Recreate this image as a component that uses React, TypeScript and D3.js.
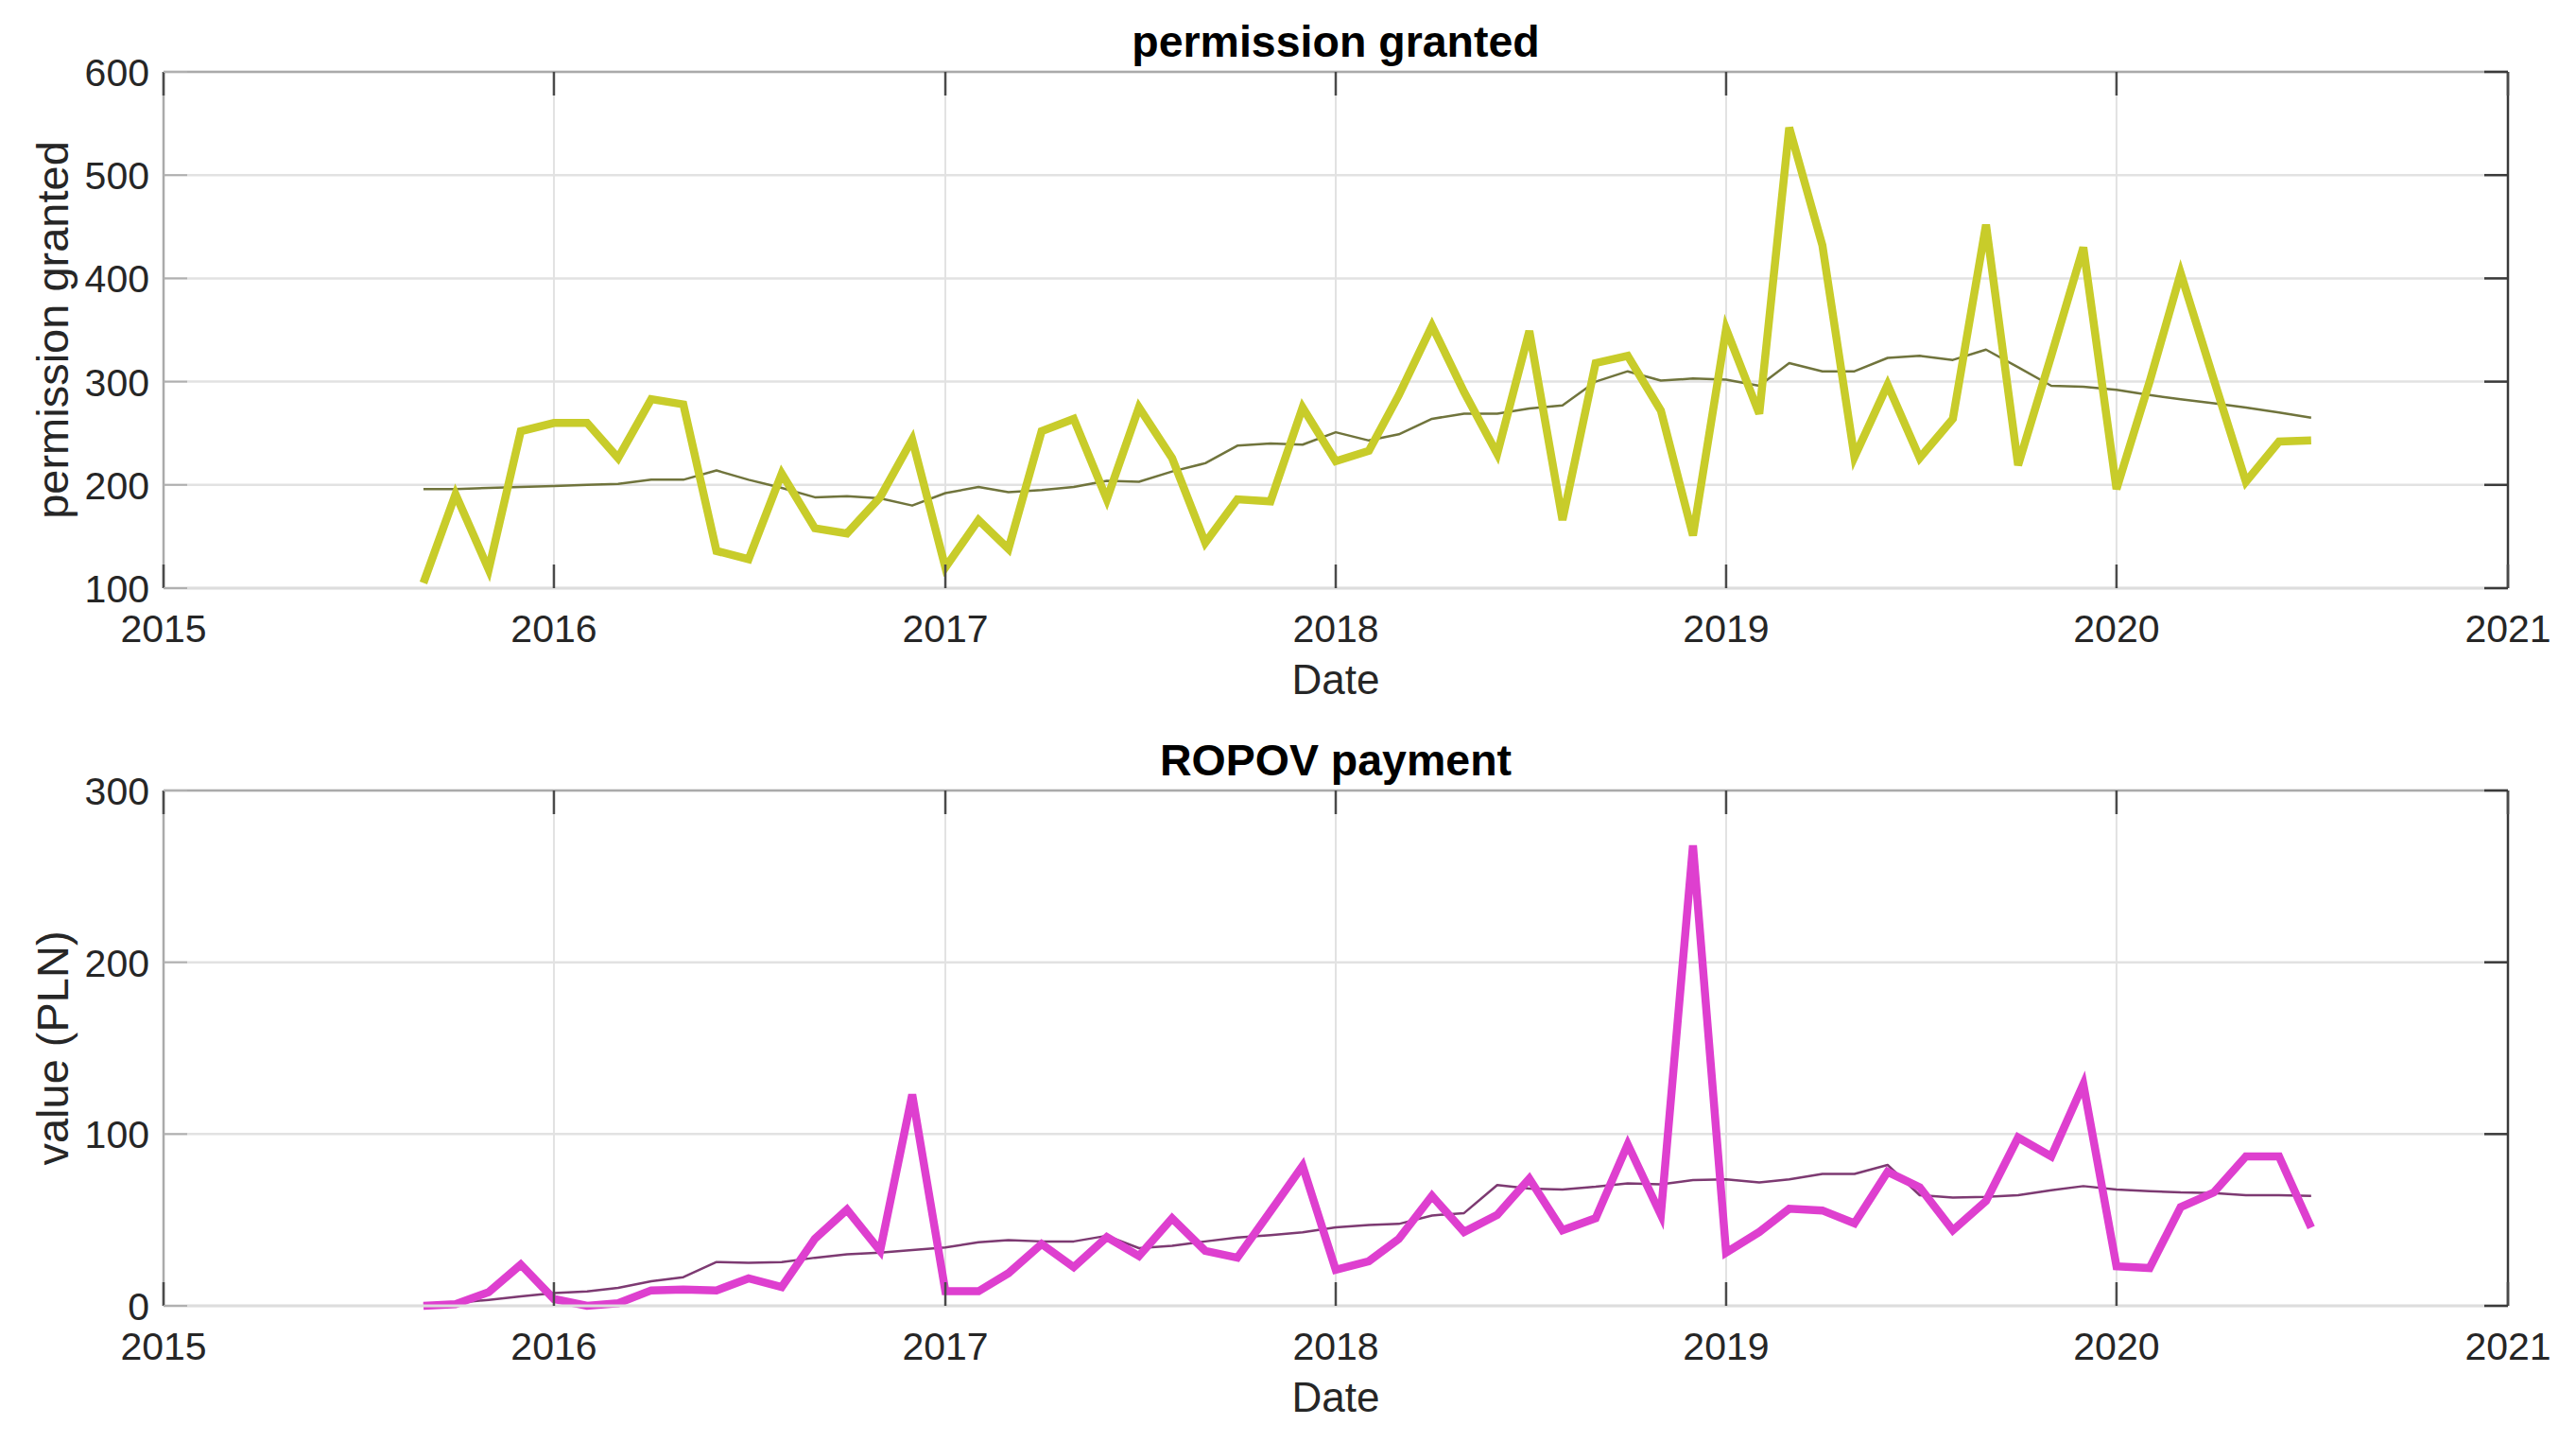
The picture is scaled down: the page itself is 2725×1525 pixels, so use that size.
import React from "react";
import * as d3 from "d3";

// ---- data (monthly, Sep 2015 .. Jul 2020) ----
const startMonth = new Date(2015, 8, 1);
const endMonthExclusive = new Date(2020, 7, 1);

const permissionGranted = [
  105, 191, 118, 252, 260, 260, 226, 283, 278, 136, 128, 211, 158, 153, 188, 244,
  120, 166, 138, 252, 264, 186, 275, 226, 144, 186, 184, 275, 223, 233, 287, 354,
  290, 230, 349, 166, 318, 325, 272, 151, 351, 269, 546, 432, 227, 297, 226, 264,
  452, 219, 325, 430, 196, 300, 405, 302, 203, 242, 243,
];
const permissionTrend = [
  196, 196, 197, 198, 199, 200, 201, 205, 205, 214, 205, 197, 188, 189, 187, 180,
  192, 198, 193, 195, 198, 204, 203, 213, 221, 238, 240, 239, 251, 243, 249, 264,
  269, 269, 274, 277, 300, 310, 301, 303, 302, 296, 318, 310, 310, 323, 325, 321,
  331, 314, 296, 295, 292, 287, 283, 279, 275, 270, 265,
];
const ropovPayment = [
  0, 1, 8, 24, 4, 0, 1.5, 9, 9.5, 9, 16, 11, 39, 56, 32, 123,
  8.5, 8.5, 19, 36, 22.5, 40, 29, 51, 32, 28, 55, 81.5, 21, 26, 39, 64,
  43, 53, 74, 44, 51, 94, 53, 268, 31, 43, 56.5, 55.5, 48, 78, 69, 44,
  61, 98, 87, 129, 23, 22, 57.5, 66, 87, 87, 45.5,
];
const ropovTrend = [
  1, 1.6, 3.5, 5.5, 7.4, 8.4, 10.5, 14.3, 16.7, 25.5, 25, 25.5, 28, 30, 31, 32.5,
  34, 37, 38.3, 37.5, 37.5, 40.8, 33.6, 34.9, 37.5, 39.8, 41.2, 42.8, 45.7, 47.1, 47.7, 52.6,
  54, 70.3, 68.3, 67.7, 69.3, 71.3, 70.7, 73.2, 73.6, 71.8, 73.6, 76.8, 76.8, 82, 64.4, 63,
  63.4, 64.4, 67.3, 69.7, 67.7, 66.8, 66, 65.6, 64.4, 64.4, 64,
];

const xTickYears = [2015, 2016, 2017, 2018, 2019, 2020, 2021];
const topYTicks = [100, 200, 300, 400, 500, 600];
const bottomYTicks = [0, 100, 200, 300];

const FONT = "'Liberation Sans', Arial, Helvetica, sans-serif";

type PanelProps = {
  title: string;
  yLabel: string;
  values: number[];
  trend: number[];
  yDomain: [number, number];
  yTicks: number[];
  top: number;
  bottom: number;
  mainColor: string;
  trendColor: string;
};

const months = d3.timeMonth.range(startMonth, endMonthExclusive);
const LEFT = 173;
const RIGHT = 2653;
const x = d3
  .scaleTime()
  .domain([new Date(2015, 0, 1), new Date(2021, 0, 1)])
  .range([LEFT, RIGHT]);

function Panel(p: PanelProps) {
  const y = d3.scaleLinear().domain(p.yDomain).range([p.bottom, p.top]);
  const line = d3
    .line<number>()
    .x((_, i) => x(months[i]))
    .y((v) => y(v));
  const cx = (LEFT + RIGHT) / 2;
  const cy = (p.top + p.bottom) / 2;
  const tickLen = 25;
  return (
    <g>
      {/* grid */}
      {xTickYears.map((yr) => {
        const xx = x(new Date(yr, 0, 1));
        return (
          <line key={"gx" + yr} x1={xx} x2={xx} y1={p.top} y2={p.bottom} stroke="#e2e2e2" strokeWidth={2} />
        );
      })}
      {p.yTicks.map((t) => (
        <line key={"gy" + t} x1={LEFT} x2={RIGHT} y1={y(t)} y2={y(t)} stroke="#e2e2e2" strokeWidth={2.5} />
      ))}
      {/* series */}
      <path d={line(p.trend) || ""} fill="none" stroke={p.trendColor} strokeWidth={2.5} strokeLinejoin="round" />
      <path d={line(p.values) || ""} fill="none" stroke={p.mainColor} strokeWidth={8.5} strokeLinejoin="miter" strokeMiterlimit={4} />
      {/* axes box */}
      <line x1={LEFT} x2={RIGHT} y1={p.top} y2={p.top} stroke="#aaaaaa" strokeWidth={2.5} />
      <line x1={LEFT} x2={LEFT} y1={p.top} y2={p.bottom} stroke="#aaaaaa" strokeWidth={2.5} />
      <line x1={LEFT} x2={RIGHT} y1={p.bottom} y2={p.bottom} stroke="#dddddd" strokeWidth={3} />
      <line x1={RIGHT} x2={RIGHT} y1={p.top} y2={p.bottom} stroke="#3a3a3a" strokeWidth={2.5} />
      {/* ticks */}
      {xTickYears.map((yr) => {
        const xx = x(new Date(yr, 0, 1));
        return (
          <g key={"tx" + yr}>
            <line x1={xx} x2={xx} y1={p.bottom} y2={p.bottom - tickLen} stroke="#4a4a4a" strokeWidth={2.5} />
            <line x1={xx} x2={xx} y1={p.top} y2={p.top + tickLen} stroke="#4a4a4a" strokeWidth={2.5} />
            <text
              x={xx}
              y={p.bottom + 57}
              textAnchor="middle"
              fontFamily={FONT}
              fontSize={41}
              fill="#262626"
            >
              {yr}
            </text>
          </g>
        );
      })}
      {p.yTicks.map((t) => (
        <g key={"ty" + t}>
          <line x1={LEFT} x2={LEFT + tickLen} y1={y(t)} y2={y(t)} stroke="#b0b0b0" strokeWidth={2} />
          <line x1={RIGHT} x2={RIGHT - tickLen} y1={y(t)} y2={y(t)} stroke="#3a3a3a" strokeWidth={2.5} />
          <text
            x={LEFT - 15}
            y={y(t) + 15}
            textAnchor="end"
            fontFamily={FONT}
            fontSize={41}
            fill="#262626"
          >
            {t}
          </text>
        </g>
      ))}
      {/* labels */}
      <text x={cx} y={p.bottom + 112} textAnchor="middle" fontFamily={FONT} fontSize={44} fill="#262626">
        Date
      </text>
      <text
        transform={`translate(72, ${cy}) rotate(-90)`}
        textAnchor="middle"
        fontFamily={FONT}
        fontSize={47}
        fill="#262626"
      >
        {p.yLabel}
      </text>
      <text
        x={cx}
        y={p.top - 16}
        textAnchor="middle"
        fontFamily={FONT}
        fontSize={46.5}
        fontWeight="bold"
        fill="#000"
      >
        {p.title}
      </text>
    </g>
  );
}

export default function App() {
  return (
    <svg
      width={2725}
      height={1525}
      viewBox="0 0 2725 1525"
      style={{ position: "fixed", left: 0, top: 0, background: "#fff" }}
    >
      <rect x={0} y={0} width={2725} height={1525} fill="#fff" />
      <Panel
        title="permission granted"
        yLabel="permission granted"
        values={permissionGranted}
        trend={permissionTrend}
        yDomain={[100, 600]}
        yTicks={topYTicks}
        top={76}
        bottom={622}
        mainColor="#c8cc2a"
        trendColor="#70743c"
      />
      <Panel
        title="ROPOV payment"
        yLabel="value (PLN)"
        values={ropovPayment}
        trend={ropovTrend}
        yDomain={[0, 300]}
        yTicks={bottomYTicks}
        top={836}
        bottom={1381}
        mainColor="#de3fcf"
        trendColor="#7d3a72"
      />
    </svg>
  );
}
